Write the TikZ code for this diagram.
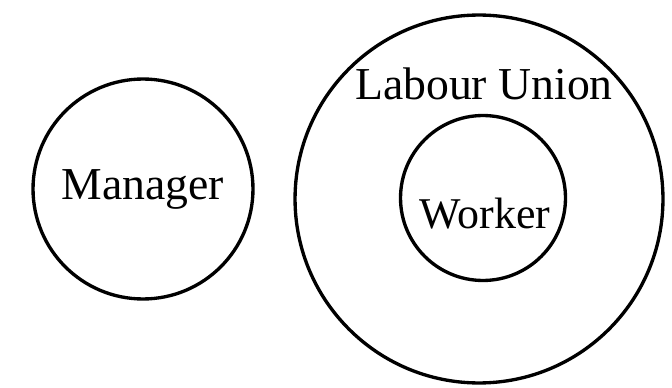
\documentclass[tikz,border=0pt]{standalone}
\usepackage{fontspec}
\setmainfont{Liberation Serif}
\usepackage{tikz}
\usetikzlibrary{shapes.geometric}
\tikzstyle{ring} = [circle,
inner sep=0pt,
text centered,
draw=black,
line width=1.9pt]
\tikzstyle{word} = [font=\fontsize{26}{30}\selectfont]

\begin{document}
\begin{tikzpicture}[x=0.02cm, y=-0.02cm]
\useasboundingbox (0,0) rectangle (672,388);
\node (manager) [ring, word, minimum size=4.4cm] at (143,189) {Manager};
\node (union) [ring, minimum size=7.36cm] at (479,199) {};
\node (unionlabel) [word] at (484,84) {Labour Union};
\node (worker) [ring, minimum size=3.3cm] at (483,198) {};
\node (workerlabel) [font=\fontsize{25}{29}\selectfont] at (485,214) {Worker};
\end{tikzpicture}
\end{document}
